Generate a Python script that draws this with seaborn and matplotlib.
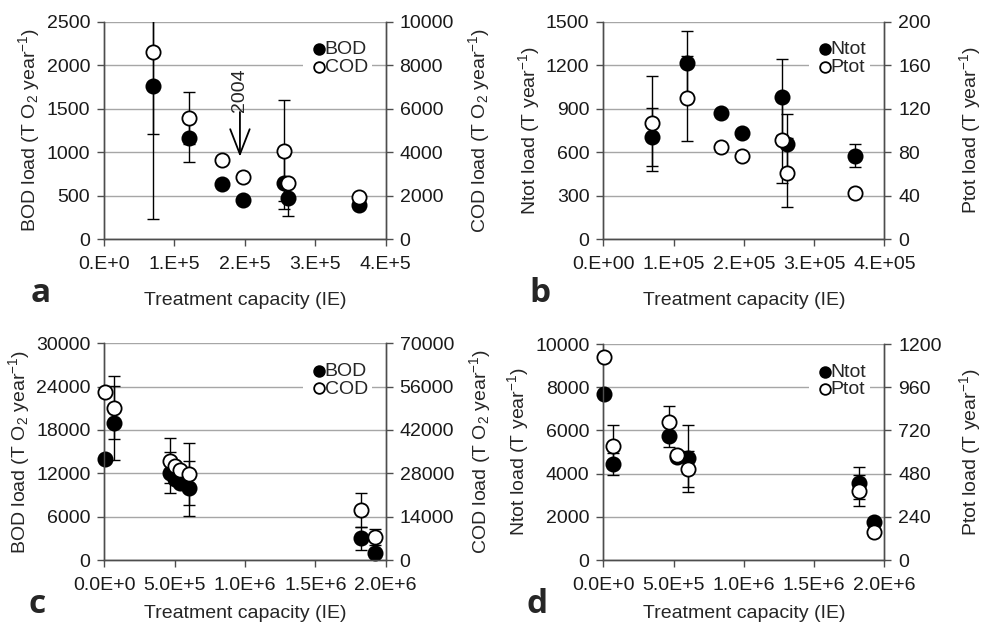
import numpy as np
import pandas as pd
import seaborn as sns
import matplotlib.pyplot as plt

# panel a: BOD (left axis) and COD (right axis), T O2 per year
a_x = [70000, 120000, 168000, 197000, 256000, 261000, 362000]
a_bod = [1763, 1160, 630, 450, 650, 469, 392]
a_bod_err = [1533, 277, 0, 0, 300, 210, 0]
a_cod = [8600, 5560, 3640, 2870, 4070, 2600, 1920]
a_cod_err = [3760, 1200, 0, 0, 2330, 0, 0]

# panel b: Ntot (left) and Ptot (right), T per year
b_x = [69000, 119000, 167000, 197000, 254000, 261000, 358000]
b_ntot = [703, 1213, 873, 731, 979, 655, 576]
b_ntot_err = [200, 225, 0, 0, 262, 207, 78]
b_ptot = [106.7, 129.6, 85, 76, 91.3, 61.2, 42.8]
b_ptot_err = [43.7, 39, 0, 0, 39.7, 31.9, 0]

# panel c
c_x = [5000, 70000, 467000, 505000, 540000, 600000, 1824000, 1925000]
c_bod = [13940, 19010, 12090, 11170, 10620, 9930, 3000, 925]
c_bod_err = [0, 5100, 2860, 0, 0, 3800, 1620, 0]
c_cod = [54170, 49210, 32080, 30380, 29170, 27790, 16150, 7330]
c_cod_err = [0, 10220, 7230, 0, 0, 10100, 5400, 2600]

# panel d
d_x = [5000, 70000, 471000, 524000, 600000, 1820000, 1930000]
d_ntot = [7685, 4444, 5755, 4780, 4708, 3551, 1773]
d_ntot_err = [0, 509, 537, 0, 1540, 740, 0]
d_ptot = [1129, 633, 768, 583, 506, 385, 157]
d_ptot_err = [0, 117, 88, 0, 102, 85, 0]

xlab_a = ["0.E+0", "1.E+5", "2.E+5", "3.E+5", "4.E+5"]
xlab_b = ["0.E+00", "1.E+05", "2.E+05", "3.E+05", "4.E+05"]
xlab_cd = ["0.0E+0", "5.0E+5", "1.0E+6", "1.5E+6", "2.0E+6"]

sns.set_style("ticks")
plt.rcParams['font.family'] = ['Liberation Sans', 'DejaVu Sans']
plt.rcParams['mathtext.default'] = 'regular'

FS = 14
SPINE = '#4d4d4d'
fig = plt.figure(figsize=(9.85, 6.26), dpi=100)


def panel(rect, x, y1, e1, y2, e2, n1, n2, lim1, lim2, xmax, xlabels, ylab1, ylab2,
          xpad=14, rpad=9):
    df = pd.DataFrame({'x': x, n1: y1, n1 + '_err': e1, n2: y2, n2 + '_err': e2})
    ax = fig.add_axes(rect)
    ax2 = ax.twinx()

    m1 = df[n1 + '_err'] > 0
    ax.errorbar(df.x[m1], df[n1][m1], yerr=df[n1 + '_err'][m1], fmt='none',
                ecolor='black', elinewidth=1, capsize=4, capthick=1, zorder=2)
    sns.scatterplot(data=df, x='x', y=n1, ax=ax, color='black', edgecolor='black',
                    linewidth=1.3, s=105, label=n1, clip_on=False, zorder=3)
    m2 = df[n2 + '_err'] > 0
    ax2.errorbar(df.x[m2], df[n2][m2], yerr=df[n2 + '_err'][m2], fmt='none',
                 ecolor='black', elinewidth=1, capsize=4, capthick=1, zorder=2)
    sns.scatterplot(data=df, x='x', y=n2, ax=ax2, color='white', edgecolor='black',
                    linewidth=1.3, s=105, label=n2, clip_on=False, zorder=3)

    for a in (ax, ax2):
        if a.get_legend() is not None:
            a.get_legend().remove()
        a.spines['top'].set_visible(False)
        for s in ('left', 'right', 'bottom'):
            a.spines[s].set_color(SPINE)
            a.spines[s].set_linewidth(1)
        a.tick_params(direction='out', length=5, width=1, color=SPINE,
                      labelsize=FS, labelcolor='#1a1a1a', pad=5)
    ax.tick_params(axis='x', pad=7)

    ax.set_xlim(0, xmax)
    ax.set_xticks(np.linspace(0, xmax, 5))
    ax.set_xticklabels(xlabels)
    ax.set_ylim(0, lim1)
    ax.set_yticks(np.linspace(0, lim1, 6))
    ax2.set_ylim(0, lim2)
    ax2.set_yticks(np.linspace(0, lim2, 6))
    ax2.set_yticklabels([f"{v:g}" for v in np.linspace(0, lim2, 6)])
    ax.yaxis.grid(True, color='#a6a6a6', lw=1)
    ax.set_axisbelow(True)

    ax.set_xlabel("Treatment capacity (IE)", fontsize=FS, labelpad=xpad)
    ax.set_ylabel(ylab1, fontsize=FS, labelpad=3)
    ax2.set_ylabel(ylab2, fontsize=FS, labelpad=rpad)

    h1, l1 = ax.get_legend_handles_labels()
    h2, l2 = ax2.get_legend_handles_labels()
    ax2.legend(h1 + h2, l1 + l2, loc='upper right', bbox_to_anchor=(0.985, 0.975),
               frameon=True, framealpha=1, edgecolor='none', facecolor='white',
               fontsize=FS, handletextpad=-0.3, handlelength=1.2, borderpad=0.2,
               labelspacing=0.0, markerscale=0.75, fancybox=False)
    return ax, ax2


ax, _ = panel([0.1056, 0.6182, 0.2860, 0.3471], a_x, a_bod, a_bod_err, a_cod, a_cod_err,
              "BOD", "COD", 2500, 10000, 4e5, xlab_a,
              "BOD load (T O$_2$ year$^{-1}$)", "COD load (T O$_2$ year$^{-1}$)")
ax.annotate('', xy=(1.93e5, 947), xytext=(1.93e5, 1461),
            arrowprops=dict(arrowstyle='->,head_length=0.9,head_width=0.35',
                            color='black', lw=1.3, mutation_scale=20, shrinkA=0, shrinkB=0))
ax.text(1.93e5, 1715, "2004", rotation=90, ha='center', va='center', fontsize=FS)

panel([0.6125, 0.6182, 0.2853, 0.3471], b_x, b_ntot, b_ntot_err, b_ptot, b_ptot_err,
      "Ntot", "Ptot", 1500, 200, 4e5, xlab_b,
      "Ntot load (T year$^{-1}$)", "Ptot load (T year$^{-1}$)", rpad=19)

panel([0.1059, 0.1054, 0.2857, 0.3462], c_x, c_bod, c_bod_err, c_cod, c_cod_err,
      "BOD", "COD", 30000, 70000, 2e6, xlab_cd,
      "BOD load (T O$_2$ year$^{-1}$)", "COD load (T O$_2$ year$^{-1}$)", xpad=8)

panel([0.6125, 0.1054, 0.2853, 0.3450], d_x, d_ntot, d_ntot_err, d_ptot, d_ptot_err,
      "Ntot", "Ptot", 10000, 1200, 2e6, xlab_cd,
      "Ntot load (T year$^{-1}$)", "Ptot load (T year$^{-1}$)", xpad=8, rpad=11)

for letter, lx, ly in [("a", 0.031, 0.505), ("b", 0.537, 0.505), ("c", 0.029, 0.008), ("d", 0.535, 0.008)]:
    fig.text(lx, ly, letter, fontsize=24, fontweight='bold', family='Open Sans', ha='left', va='bottom')

fig.savefig("out.png", dpi=100)
